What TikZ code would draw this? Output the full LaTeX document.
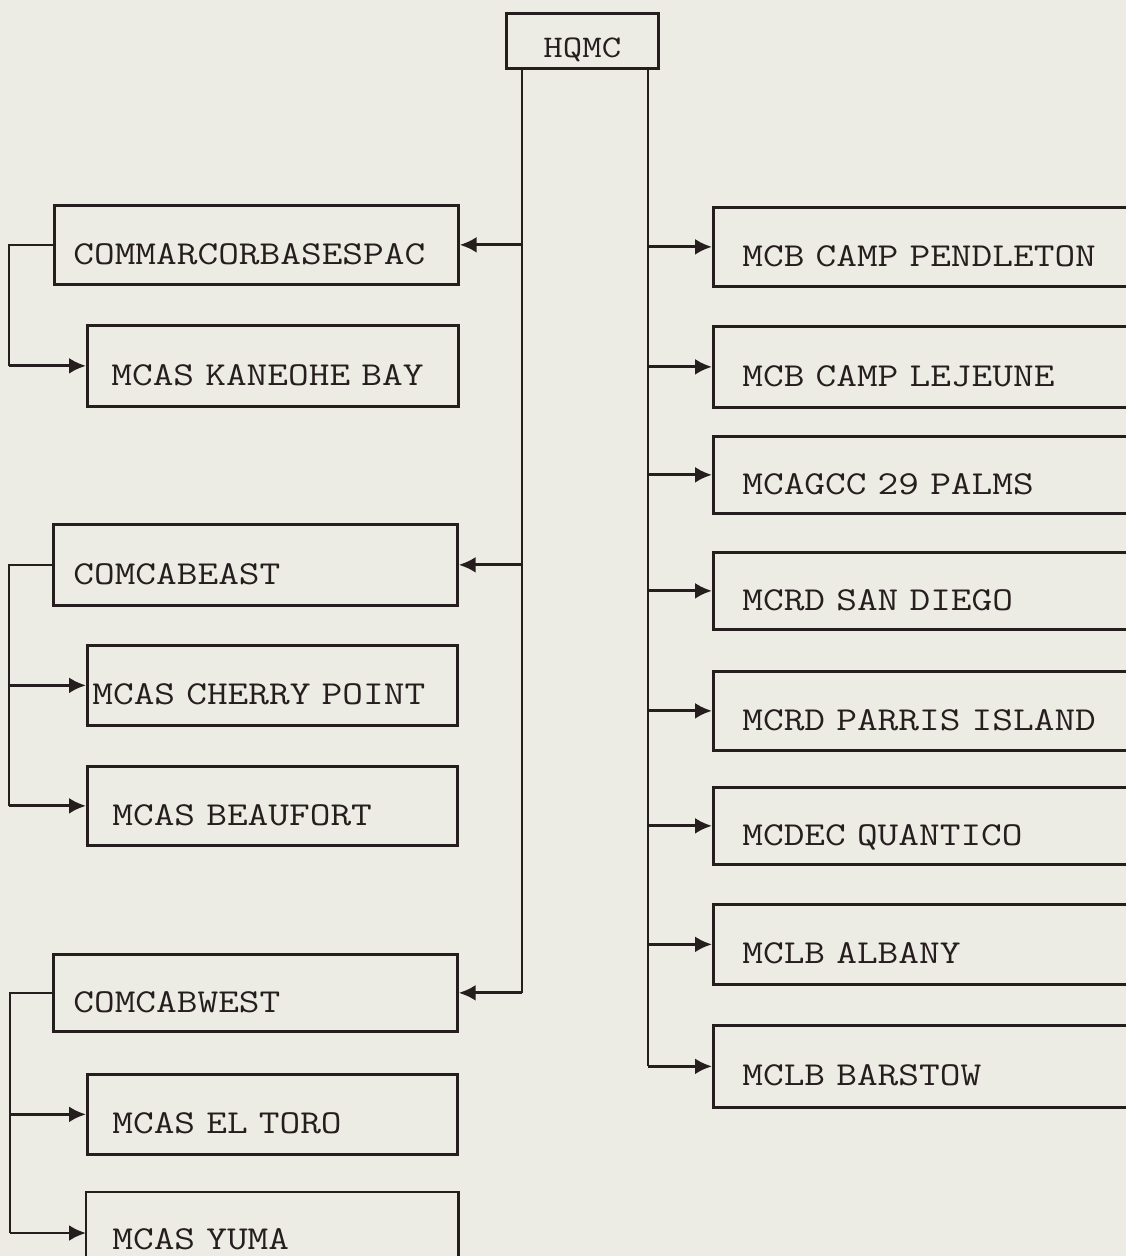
\documentclass[tikz,border=0pt]{standalone}
\usepackage{fontspec}
\newfontfamily\twfont{Latin Modern Mono}[FakeStretch=1.2]
\usetikzlibrary{arrows.meta,calc}
\definecolor{ink}{RGB}{38,30,30}
\definecolor{paper}{RGB}{236,236,228}
\begin{document}
\begin{tikzpicture}[x=1pt,y=-1pt,
  boxline/.style={draw=ink, line width=2.7pt},
  box/.style={boxline, inner ysep=0pt, text height=39pt, text depth=0pt,
    align=left, text=ink, font=\twfont\fontsize{33.5}{36}\selectfont, anchor=north west},
  trunk/.style={draw=ink, line width=1.9pt},
  arr/.style={draw=ink, line width=2.9pt, -{Latex[length=17pt,width=16pt]}},
]
\fill[paper] (0,0) rectangle (1126,1256);
\clip (0,0) rectangle (1126,1256);

% top
\node[box, inner xsep=0pt, text width=152pt, align=center, minimum height=55pt, text height=34pt,
      font=\twfont\fontsize{31.5}{34}\selectfont] (hq) at (505,12) {HQMC};

% left column
\node[box, inner xsep=19pt, text width=366pt, minimum height=79pt] (c1) at (53,204) {COMMARCORBASESPAC};
\node[box, inner xsep=24pt, text width=323pt, minimum height=81pt] (k1) at (86,324) {MCAS KANEOHE BAY};
\node[box, inner xsep=20pt, text width=364pt, minimum height=81pt] (c2) at (52,523) {COMCABEAST};
\node[box, inner xsep=5pt,  text width=360pt, minimum height=80pt] (k2) at (86,644) {MCAS CHERRY POINT};
\node[box, inner xsep=25pt, text width=320pt, minimum height=79pt] (k3) at (86,765) {MCAS BEAUFORT};
\node[box, inner xsep=20pt, text width=364pt, minimum height=77pt] (c3) at (52,953) {COMCABWEST};
\node[box, inner xsep=25pt, text width=320pt, minimum height=80pt] (k4) at (86,1073) {MCAS EL TORO};
% last box runs past the lower edge: outline drawn open at the bottom
\node[box, draw=none, inner xsep=25pt, text width=320pt, minimum height=62pt, text height=50pt] (k5) at (86,1192) {MCAS YUMA};
\draw[boxline] ($(k5.south west)+(0,10)$) -- (k5.north west) -- (k5.north east) -- ($(k5.south east)+(0,10)$);

% right column
\node[box, inner xsep=29pt, text width=380pt, minimum height=79pt] (r1) at (712,206) {MCB CAMP PENDLETON};
\node[box, inner xsep=29pt, text width=380pt, minimum height=81pt] (r2) at (712,325) {MCB CAMP LEJEUNE};
\node[box, inner xsep=29pt, text width=380pt, minimum height=77pt] (r3) at (712,435) {MCAGCC 29 PALMS};
\node[box, inner xsep=29pt, text width=380pt, minimum height=77pt] (r4) at (712,551) {MCRD SAN DIEGO};
\node[box, inner xsep=29pt, text width=380pt, minimum height=79pt] (r5) at (712,670) {MCRD PARRIS ISLAND};
\node[box, inner xsep=29pt, text width=380pt, minimum height=77pt] (r6) at (712,786) {MCDEC QUANTICO};
\node[box, inner xsep=29pt, text width=380pt, minimum height=80pt] (r7) at (712,903) {MCLB ALBANY};
\node[box, inner xsep=29pt, text width=380pt, minimum height=82pt] (r8) at (712,1024) {MCLB BARSTOW};

% trunks from HQMC
\coordinate (tl) at ($(hq.south west)+(17,0)$);
\coordinate (tr) at ($(hq.south east)+(-12,0)$);
\draw[trunk] (tl) -- (tl |- c3.east);
\draw[trunk] (tr) -- (tr |- r8.west);

% left arrows
\foreach \n in {c1,c2,c3}
  \draw[arr] (tl |- \n.east) -- (\n.east);

% right arrows
\foreach \n in {r1,r2,r3,r4,r5,r6,r7,r8}
  \draw[arr] (tr |- \n.west) -- (\n.west);

% brackets of the left groups
\draw[trunk] (c1.west) -- ++(-44,0) coordinate (b1) -- (b1 |- k1.west);
\draw[arr] (b1 |- k1.west) -- (k1.west);

\draw[trunk] (c2.west) -- ++(-43,0) coordinate (b2) -- (b2 |- k3.west);
\draw[arr] (b2 |- k2.west) -- (k2.west);
\draw[arr] (b2 |- k3.west) -- (k3.west);

\coordinate (k5in) at ($(k5.north west)+(0,41)$);
\draw[trunk] (c3.west) -- ++(-42,0) coordinate (b3) -- (b3 |- k5in);
\draw[arr] (b3 |- k4.west) -- (k4.west);
\draw[arr] (b3 |- k5in) -- (k5in);
\end{tikzpicture}
\end{document}
